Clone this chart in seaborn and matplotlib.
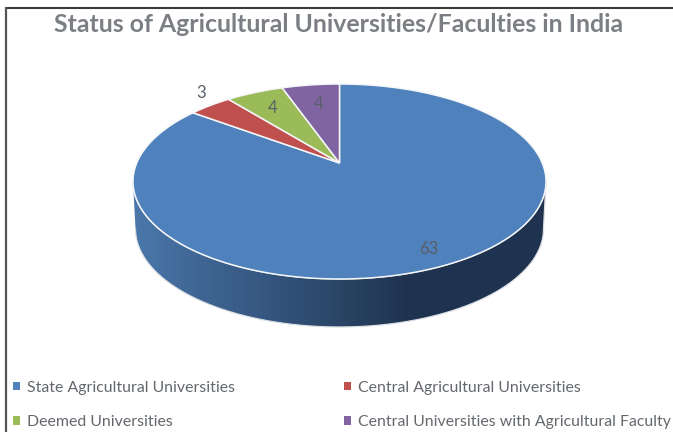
import numpy as np
import matplotlib
matplotlib.use("Agg")
import matplotlib.pyplot as plt
import seaborn as sns
from matplotlib.patches import Patch, PathPatch
from matplotlib.path import Path
from matplotlib.transforms import Affine2D, Transform

title = "Status of Agricultural Universities/Faculties in India"
categories = [
    "State Agricultural Universities",
    "Central Agricultural Universities",
    "Deemed Universities",
    "Central Universities with Agricultural Faculty",
]
values = [63, 3, 4, 4]
slice_colors = ["#4F81BD", "#C0504D", "#9BBB59", "#8064A2"]
wall_colors = ["#4A78AC", "#3F6592", "#34557F", "#2A4565", "#1F3350", "#1F3350", "#1F3350"]


class Perspective(Transform):
    """Projects the flat unit-circle pie onto a tilted disc, in pixel coordinates."""
    input_dims = output_dims = 2
    has_inverse = False
    is_separable = False

    def __init__(self, cx, apex_y, top_y, bottom_y, half_width):
        super().__init__()
        self.cx = cx
        self.apex_y = apex_y
        self.c = (top_y + bottom_y - 2 * apex_y) / (bottom_y - top_y)
        self.a = top_y * (1 + self.c) - apex_y
        self.d = half_width * np.sqrt(1 - self.c ** 2)

    def transform_non_affine(self, xy):
        xy = np.asarray(xy, float)
        w = 1 + self.c * xy[:, 1]
        return np.column_stack(
            (self.cx + self.d * xy[:, 0] / w, (self.apex_y + self.a * xy[:, 1]) / w)
        )

    def transform_path_non_affine(self, path):
        # Flatten at a large scale so that the arcs stay smooth under projection
        scale = 2000.0
        polys = path.transformed(Affine2D().scale(scale)).to_polygons(closed_only=False)
        return Path(self.transform_non_affine(np.vstack(polys) / scale))


sns.set_theme(style="white")
plt.rcParams["font.family"] = ["Lato", "DejaVu Sans"]

fig = plt.figure(figsize=(6.73, 4.32), dpi=100, facecolor="white")
ax = fig.add_axes([0, 0, 1, 1])

wedges, _ = ax.pie(
    values,
    colors=slice_colors,
    startangle=90,
    counterclock=False,
    wedgeprops={"edgecolor": "#F4F6F8", "linewidth": 1.1},
)
ax.set_aspect("auto")
ax.set_xlim(0, 673)
ax.set_ylim(432, 0)
ax.axis("off")

top_face = Perspective(339.5, 163, 84, 279, 206.5)
low_face = Perspective(339.5, 210, 131, 327, 204)
for wedge in wedges:
    wedge.set_transform(top_face + ax.transData)
    wedge.set_zorder(3)

# Silhouette of the disc: lower rim in front, upper rim behind
theta = np.linspace(0, 2 * np.pi, 721)
rim = np.column_stack((np.cos(theta), np.sin(theta)))
front = rim[rim[:, 1] <= -top_face.c]
front = front[np.argsort(front[:, 0])]
outline = np.vstack(
    (low_face.transform_non_affine(front), top_face.transform_non_affine(front[::-1]))
)
wall_clip = PathPatch(
    Path(outline, closed=False), facecolor="none", edgecolor="#DCDFE3", linewidth=0.9,
    transform=ax.transData, zorder=2.5,
)
ax.add_patch(wall_clip)

wall_cmap = sns.blend_palette(wall_colors, as_cmap=True)
wall = ax.imshow(
    np.linspace(0, 1, 256)[None, :],
    cmap=wall_cmap,
    extent=(133, 546, 340, 170),
    aspect="auto",
    zorder=2,
)
wall.set_clip_path(wall_clip)
ax.set_xlim(0, 673)
ax.set_ylim(432, 0)

# Value labels beside or on their slices
label_color = "#595F69"
label_spots = [(429, 249), (201, 93.5), (273, 108), (319, 104)]
for value, (x, y) in zip(values, label_spots):
    ax.text(x, y, str(value), ha="center", va="center", fontsize=12,
            color=label_color, zorder=5)

ax.text(338.5, 24, title, ha="center", va="center", fontsize=17.95,
        fontweight="bold", color="#7B7F84")

# Column-first ordering gives the two-by-two arrangement
order = [0, 2, 1, 3]
handles = [Patch(facecolor=slice_colors[i], edgecolor="none") for i in order]
ax.legend(
    handles,
    [categories[i] for i in order],
    ncols=2,
    loc="lower left",
    bbox_to_anchor=(10 / 673, 0.0),
    bbox_transform=fig.transFigure,
    frameon=False,
    fontsize=11.4,
    labelcolor="#64686D",
    handlelength=0.45,
    handleheight=0.45,
    handletextpad=0.42,
    columnspacing=6.9,
    labelspacing=1.29,
    borderpad=0,
    borderaxespad=0.19,
)

# Chart frame: only the top and left edges fall inside the canvas
ax.plot([5.5, 673], [7.5, 7.5], color="#3A3A3A", lw=1.5, solid_capstyle="butt", zorder=6)
ax.plot([5.8, 5.8], [7, 432], color="#555555", lw=1.6, solid_capstyle="butt", zorder=6)

fig.savefig("out.png", dpi=100)
